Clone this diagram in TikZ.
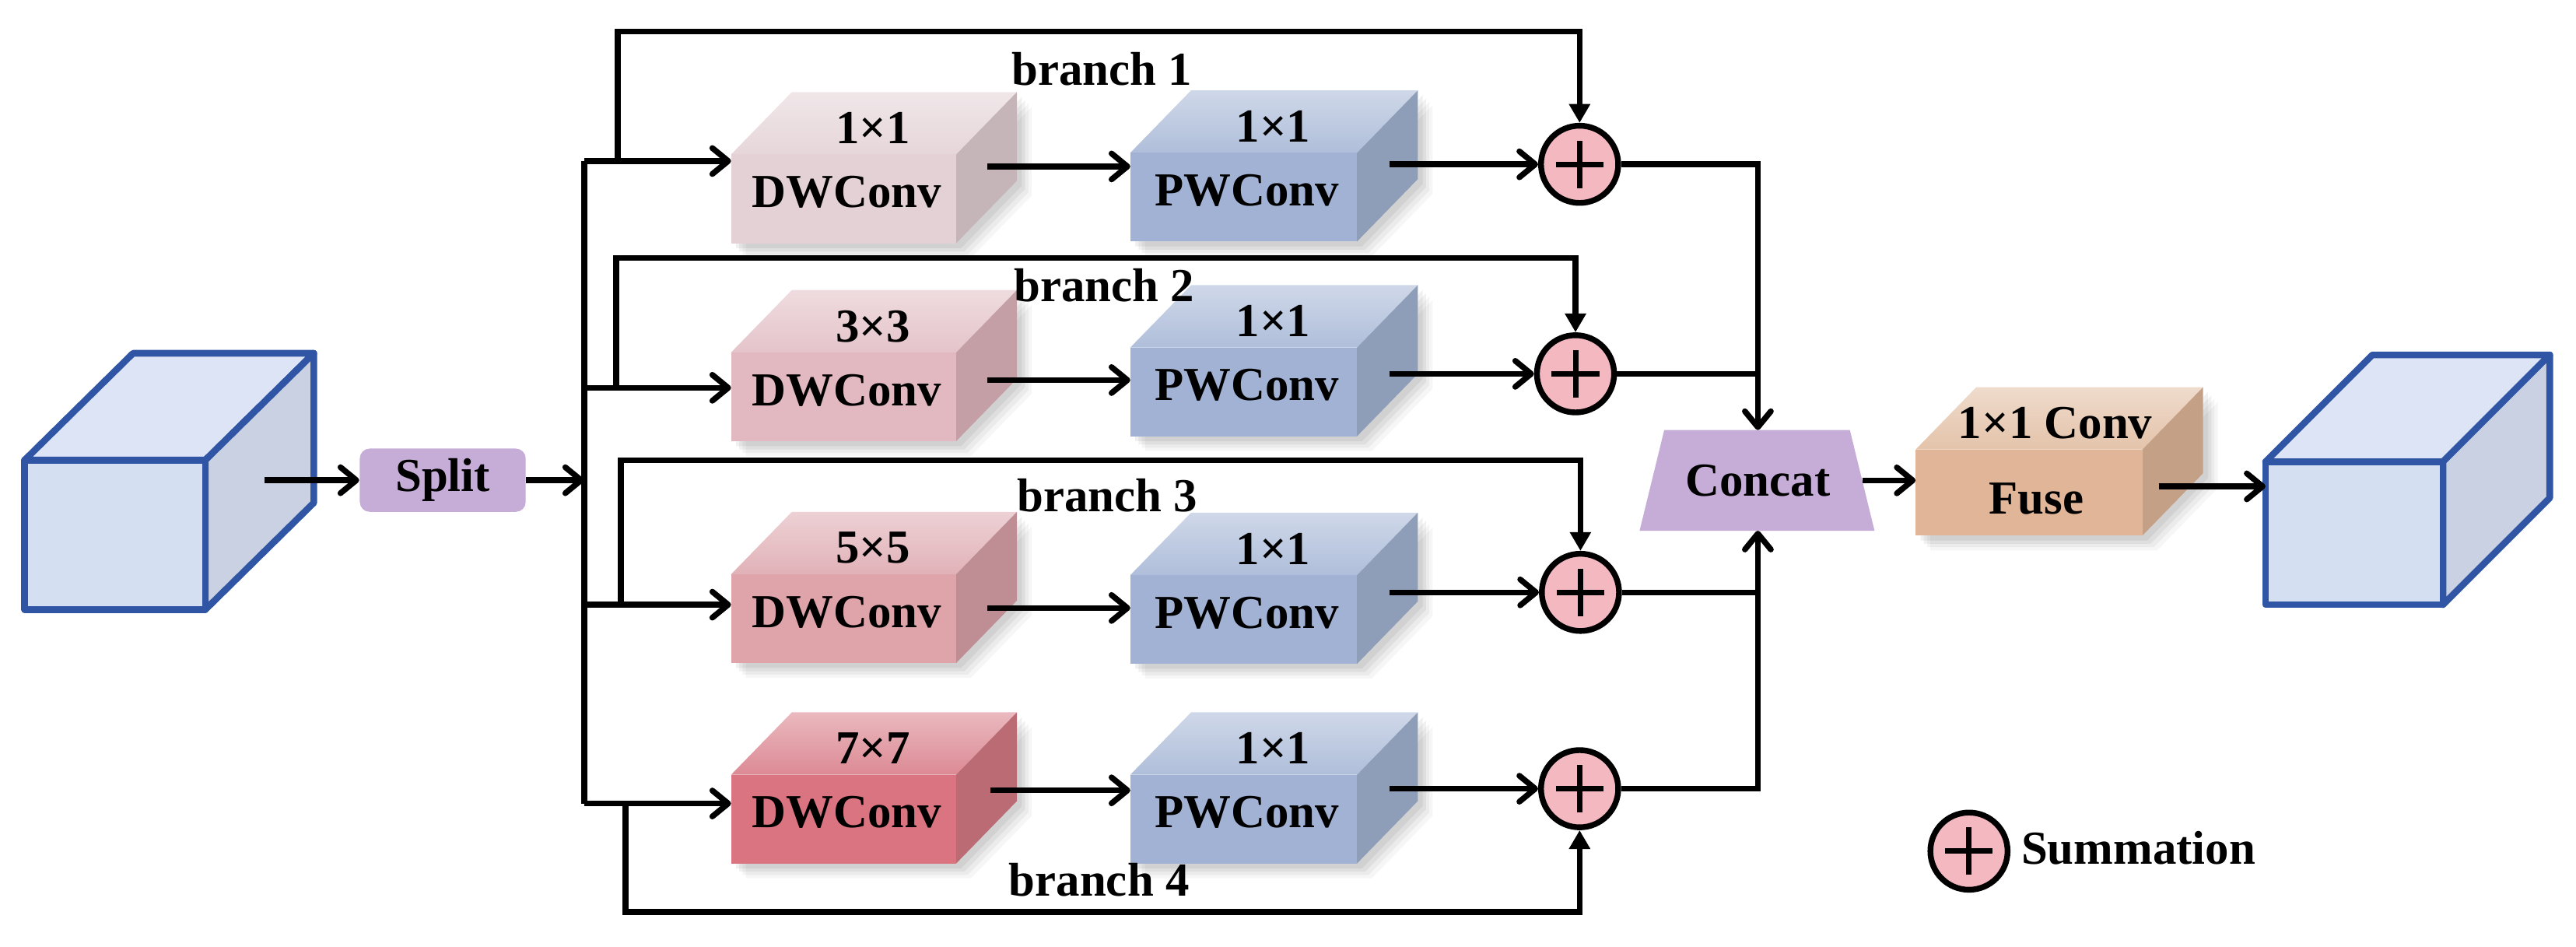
\documentclass[tikz,border=0pt]{standalone}
\usepackage{fontspec}
\setmainfont{Liberation Serif}
\usetikzlibrary{arrows.meta}
\definecolor{cubeedge}{HTML}{2F55A4}
\definecolor{cubefront}{HTML}{D4DFF2}
\definecolor{cubetop}{HTML}{DDE4F5}
\definecolor{cuberight}{HTML}{C9D1E3}
\definecolor{lav}{HTML}{C5ADD8}
\definecolor{sumpink}{HTML}{F4B8C0}
\definecolor{dwAF}{HTML}{E3D1D5}\definecolor{dwAT}{HTML}{E6D6DA}\definecolor{dwAR}{HTML}{C5B4B8}
\definecolor{dwBF}{HTML}{E2B9C1}\definecolor{dwBT}{HTML}{E4C4CA}\definecolor{dwBR}{HTML}{C4A0A6}
\definecolor{dwCF}{HTML}{DFA3AA}\definecolor{dwCT}{HTML}{E1B2B8}\definecolor{dwCR}{HTML}{BF8E94}
\definecolor{dwDF}{HTML}{D97480}\definecolor{dwDT}{HTML}{DC8A94}\definecolor{dwDR}{HTML}{BA6B73}
\definecolor{pwF}{HTML}{A2B2D5}\definecolor{pwT}{HTML}{AFBEDA}\definecolor{pwR}{HTML}{8F9EB8}
\definecolor{fuF}{HTML}{E1B597}\definecolor{fuT}{HTML}{E4C3AA}\definecolor{fuR}{HTML}{C4A186}

% #1 name, #2 x-left, #3 y-top, #4 width, #5 height, #6 colour prefix
\newcommand\convblock[6]{%
 \begin{scope}[shift={(#2,#3)}]
  \foreach \sh/\op in {9/0.035,7/0.045,5/0.055,3/0.06}{%
    \fill[black,opacity=\op] (\sh,\sh) -- (#4+\sh,\sh) -- (#4+37+\sh,-38+\sh) -- (#4+37+\sh,#5-38+\sh) -- (#4+\sh,#5+\sh) -- (\sh,#5+\sh) -- cycle;}
  \shade[top color=#6T!60!white, middle color=#6T, bottom color=#6T] (0,0) -- (37,-38) -- (#4+37,-38) -- (#4,0) -- cycle;
  \fill[#6R] (#4,0) -- (#4+37,-38) -- (#4+37,#5-38) -- (#4,#5) -- cycle;
  \node[inner sep=0pt, outer sep=0pt, minimum width=#4*0.02cm, minimum height=#5*0.02cm, fill=#6F, anchor=north west] (#1) at (0,0) {};
 \end{scope}}

% #1 name, #2 x, #3 y, #4 w, #5 h, #6 dx, #7 dy
\newcommand\iocube[7]{%
 \begin{scope}[shift={(#2,#3)}, line width=2.3pt, line join=round]
  \filldraw[fill=cubetop, draw=cubeedge] (0,0) -- (#6,-#7) -- (#4+#6,-#7) -- (#4,0) -- cycle;
  \filldraw[fill=cuberight, draw=cubeedge] (#4,0) -- (#4+#6,-#7) -- (#4+#6,#5-#7) -- (#4,#5) -- cycle;
  \node[draw=cubeedge, fill=cubefront, line width=2.3pt, inner sep=0pt, outer sep=0pt, minimum width=#4*0.02cm, minimum height=#5*0.02cm, anchor=north west] (#1) at (0,0) {};
 \end{scope}}

\begin{document}
\begin{tikzpicture}[x=0.02cm, y=-0.02cm,
  font=\fontsize{16.4pt}{19pt}\selectfont\bfseries,
  conn/.style={line width=2pt, draw=black},
  barb/.style={-{Straight Barb[length=5.5pt,width=9pt,round]}},
  tri/.style={-{Triangle[length=6.5pt,width=7pt]}},
  sumnode/.style={circle, draw=black, line width=2pt, fill=sumpink, minimum size=0.94cm, inner sep=0pt,
    path picture={\draw[line width=1.9pt] ([xshift=-0.29cm]path picture bounding box.center) -- ([xshift=0.29cm]path picture bounding box.center);
                  \draw[line width=1.9pt] ([yshift=-0.29cm]path picture bounding box.center) -- ([yshift=0.29cm]path picture bounding box.center);}},
  lbl/.style={inner sep=0pt},
  splitbox/.style={fill=lav, rounded corners=0.12cm, minimum width=2.02cm, minimum height=0.77cm, inner sep=0pt}]
\useasboundingbox (0,0) rectangle (1568,575.9);

% input cube and split
\iocube{incube}{15}{280}{110}{91}{66}{65}
\coordinate (inarrow) at (161,292.25);
\node[splitbox] (split) at (269.5,292.25) {Split};
\draw[conn,barb] (inarrow) -- (split.west);

% bus
\coordinate (bus1) at (355.5,98);
\coordinate (bus2) at (355.5,236);
\coordinate (bus3) at (355.5,368);
\coordinate (bus4) at (355.5,489);
\coordinate (busmid) at (355.5,292.25);
\draw[conn,barb] (split.east) -- (busmid);
\draw[conn,line width=2.2pt] (bus1) -- (bus4);

% blocks
\convblock{dw1}{445}{94}{137}{54}{dwA}
\convblock{dw2}{445}{214.5}{137}{54}{dwB}
\convblock{dw3}{445}{349.5}{137}{54}{dwC}
\convblock{dw4}{445}{471.5}{137}{54}{dwD}
\convblock{pw1}{688}{93}{138}{54}{pw}
\convblock{pw2}{688}{211.5}{138}{54}{pw}
\convblock{pw3}{688}{350}{138}{54}{pw}
\convblock{pw4}{688}{471.5}{138}{54}{pw}
\convblock{fuse}{1166}{273.6}{138}{52.4}{fu}

% block labels
\node[lbl] (dw1k) at (531.5,78) {1×1};
\node[lbl] (dw1t) at (515.5,117) {DWConv};
\node[lbl] (dw2k) at (531.5,198.5) {3×3};
\node[lbl] (dw2t) at (515.5,237.5) {DWConv};
\node[lbl] (dw3k) at (531.5,333.5) {5×5};
\node[lbl] (dw3t) at (515.5,372.5) {DWConv};
\node[lbl] (dw4k) at (531.5,455.5) {7×7};
\node[lbl] (dw4t) at (515.5,494.5) {DWConv};
\node[lbl] (pw1k) at (775,77) {1×1};
\node[lbl] (pw1t) at (759,116) {PWConv};
\node[lbl] (pw2k) at (775,195.5) {1×1};
\node[lbl] (pw2t) at (759,234.5) {PWConv};
\node[lbl] (pw3k) at (775,334) {1×1};
\node[lbl] (pw3t) at (759,373) {PWConv};
\node[lbl] (pw4k) at (775,455.5) {1×1};
\node[lbl] (pw4t) at (759,494.5) {PWConv};
\node[lbl] (fusek) at (1251,257.6) {1×1 Conv};
\node[lbl] (fuset) at (1239.6,303.4) {Fuse};

% summation nodes
\node[sumnode] (c1) at (961.5,100) {};
\node[sumnode] (c2) at (959,227.5) {};
\node[sumnode] (c3) at (962,360.5) {};
\node[sumnode] (c4) at (961.5,480) {};

% bus to DW
\draw[conn,barb] (bus1) -- (bus1 -| dw1.west);
\draw[conn,barb] (bus2) -- (bus2 -| dw2.west);
\draw[conn,barb] (bus3) -- (bus3 -| dw3.west);
\draw[conn,barb] (bus4) -- (bus4 -| dw4.west);

% DW to PW
\coordinate (a1) at (601,101.3);
\coordinate (a2) at (601,231.3);
\coordinate (a3) at (601,370);
\coordinate (a4) at (603,481);
\draw[conn,barb] (a1) -- (a1 -| pw1.west);
\draw[conn,barb] (a2) -- (a2 -| pw2.west);
\draw[conn,barb] (a3) -- (a3 -| pw3.west);
\draw[conn,barb] (a4) -- (a4 -| pw4.west);

% PW to sum
\coordinate (p1) at (846,100);
\coordinate (p2) at (846,227.5);
\coordinate (p3) at (846,360.5);
\coordinate (p4) at (846,480);
\draw[conn,barb] (p1) -- (c1.west);
\draw[conn,barb] (p2) -- (c2.west);
\draw[conn,barb] (p3) -- (c3.west);
\draw[conn,barb] (p4) -- (c4.west);

% skip connections
\coordinate (k1) at (376,98);   \coordinate (t1) at (376,19.3);
\coordinate (k2) at (375,236);  \coordinate (t2) at (375,157);
\coordinate (k3) at (378,368);  \coordinate (t3) at (378,280.2);
\coordinate (k4) at (380.8,489);\coordinate (t4) at (380.8,555);
\draw[conn,tri] (k1) -- (t1) -| (c1.north);
\draw[conn,tri] (k2) -- (t2) -| (c2.north);
\draw[conn,tri] (k3) -- (t3) -| (c3.north);
\draw[conn,tri] (k4) -- (t4) -| (c4.south);

% branch labels
\node[lbl] (b1) at (670.6,41.8) {branch 1};
\node[lbl] (b2) at (672,173.6) {branch 2};
\node[lbl] (b3) at (674,301.5) {branch 3};
\node[lbl] (b4) at (669,535.6) {branch 4};

% concat
\fill[lav] (1013,261.7) -- (1126,261.7) -- (1141,323) -- (998,323) -- cycle;
\node[inner sep=0pt, outer sep=0pt, minimum width=2.54cm, minimum height=1.226cm] (concat) at (1070,292.35) {Concat};
\draw[conn,barb] (c1.east) -| (concat.north);
\draw[conn] (c2.east) -- (c2.east -| concat.north);
\draw[conn] (c3.east) -- (c3.east -| concat.south);
\draw[conn,barb] (c4.east) -| (concat.south);
\draw[conn,barb] (concat.east) -- (concat.east -| fuse.west);

% output cube
\iocube{outcube}{1379}{281}{108}{87}{65}{65}
\coordinate (f1) at (1314,296);
\draw[conn,barb] (f1) -- (f1 -| outcube.west);

% legend
\node[sumnode] (legc) at (1198.5,518) {};
\node[lbl, anchor=west] (legt) at (1230,516) {Summation};
\end{tikzpicture}
\end{document}
